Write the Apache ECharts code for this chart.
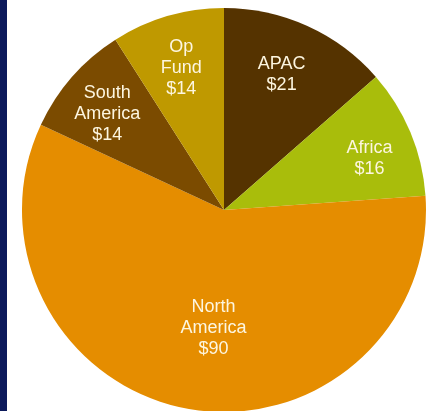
<!DOCTYPE html>
<html><head><meta charset="utf-8">
<script src="https://cdn.jsdelivr.net/npm/echarts@6/dist/echarts.min.js"></script>
<style>html,body{margin:0;padding:0;background:#fff}#c{width:437px;height:411px}</style>
</head><body><div id="c"></div>
<script>
const categories = ['APAC', 'Africa', 'North America', 'South America', 'Op Fund'];
const labelTexts = ['APAC', 'Africa', 'North\nAmerica', 'South\nAmerica', 'Op\nFund'];
const values = [21, 16, 90, 14, 14];
const colors = ['#553300', '#a9bd0b', '#e58d00', '#7b4b00', '#bf9900'];

const C = [224, 210], R = 202;
const labelStyle = {color: '#fdf6e0', fontFamily: 'Liberation Sans, Arial, sans-serif', fontSize: 18, lineHeight: 21};
// small per-label nudges
const nudges = [[-7, 7], [1, 9], [12, -4], [1, 7], [1, 8]];
const base = categories.map((c, i) => ({name: c, value: values[i], itemStyle: {color: colors[i]}}));
const fmt = p => labelTexts[p.dataIndex] + '\n$' + values[p.dataIndex];
const layout = p => ({dx: nudges[p.dataIndex][0], dy: nudges[p.dataIndex][1]});

const chart = echarts.init(document.getElementById('c'));
chart.setOption({
  backgroundColor: '#ffffff',
  animation: false,
  graphic: [{type: 'rect', left: 0, top: 0, shape: {width: 7, height: 411}, style: {fill: '#0c1a5b'}}],
  series: [
    {type: 'pie', center: C, radius: [0, R], startAngle: 90, clockwise: true, silent: true,
     label: {show: false}, labelLine: {show: false}, itemStyle: {borderWidth: 0},
     data: base},
    {type: 'pie', center: C, radius: [R * 0.52, R], startAngle: 90, clockwise: true, silent: true,
     itemStyle: {color: 'transparent', borderWidth: 0},
     label: Object.assign({show: true, position: 'inside', formatter: fmt}, labelStyle),
     labelLine: {show: false}, labelLayout: layout,
     data: categories.map((c, i) => ({name: c, value: values[i], label: {show: c !== 'North America'}}))},
    {type: 'pie', center: C, radius: [R * 0.2, R], startAngle: 90, clockwise: true, silent: true,
     itemStyle: {color: 'transparent', borderWidth: 0},
     label: Object.assign({show: true, position: 'inside', formatter: fmt}, labelStyle),
     labelLine: {show: false}, labelLayout: layout,
     data: categories.map((c, i) => ({name: c, value: values[i], label: {show: c === 'North America'}}))}
  ]
});
</script></body></html>
